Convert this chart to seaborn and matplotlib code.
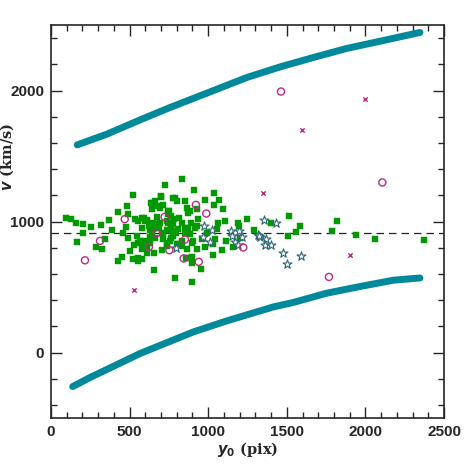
import numpy as np
import pandas as pd
import matplotlib
matplotlib.use('Agg')
import matplotlib.pyplot as plt
from matplotlib.ticker import MultipleLocator
import seaborn as sns

# 数据
upper_x = [167, 354, 587, 757, 1011, 1245, 1457, 1669, 1881, 2093, 2347]
upper_v = [1585, 1666, 1786, 1870, 1989, 2099, 2180, 2252, 2321, 2376, 2443]
lower_x = [138, 248, 566, 905, 1117, 1414, 1541, 1754, 1966, 2178, 2347]
lower_v = [-260, -191, -8, 157, 241, 348, 382, 453, 504, 552, 569]
v_mean = 910

sq_x = [96, 130, 161, 204, 206, 166, 255, 316, 289, 323, 371, 344, 390, 427, 484,
        492, 524, 533, 556, 480, 490, 456, 505, 528, 554, 579, 594, 609, 622, 630,
        592, 611, 653, 636, 645, 662, 672, 694, 700, 725, 749, 774, 789, 800, 834,
        853, 863, 874, 884, 910, 927, 937, 980, 1039, 1037, 1071, 1096, 1109, 1065, 1054,
        1041, 1029, 990, 982, 959, 931, 918, 906, 884, 874, 863, 831, 810, 793, 778,
        757, 736, 715, 704, 683, 672, 651, 647, 630, 747, 766, 783, 778, 766, 747,
        736, 715, 662, 630, 609, 577, 554, 524, 450, 427, 658, 787, 897, 954, 1033,
        1086, 1113, 1160, 1192, 1196, 1202, 1245, 867, 895, 931, 853,
        697, 644, 710, 746, 816, 576, 598, 672, 693, 735, 831, 890, 644, 687, 767,
        805, 852, 545, 566, 587, 708, 735, 763, 799, 831, 894, 555, 581, 857, 894,
        1291, 1400, 1512, 1561, 1584, 1510, 1788, 1821, 1940, 2059, 2371]
sq_v = [1025, 1022, 989, 979, 910, 842, 959, 971, 803, 793, 1012, 870, 936, 1076, 1119,
        1058, 1200, 1017, 1005, 956, 872, 915, 778, 824, 837, 949, 1030, 1012, 966, 933,
        852, 763, 763, 1144, 1094, 1157, 1119, 1106, 1195, 1277, 1081, 1183, 1183, 1157, 1323,
        1157, 1106, 1068, 1081, 1241, 1094, 1017, 1165, 1221, 1127, 1162, 1099, 1004, 992, 941,
        865, 826, 915, 809, 870, 966, 951, 852, 903, 954, 788, 814, 826, 915, 890,
        852, 814, 865, 915, 954, 979, 992, 941, 882, 1055, 1043, 1017, 979, 954, 992,
        936, 903, 877, 834, 796, 788, 725, 717, 732, 702, 630, 567, 536, 636, 742,
        781, 852, 809, 992, 966, 877, 1017, 725, 732, 788, 954,
        1190, 1145, 1127, 1081, 1030, 1030, 1005, 1038, 992, 1005, 987, 992, 915, 951, 928,
        941, 915, 890, 852, 834, 783, 839, 877, 826, 852, 834, 699, 717, 725, 687,
        936, 992, 1040, 921, 964, 888, 926, 1007, 898, 865, 862]

circ_x = [216, 312, 469, 623, 672, 723, 753, 844, 852, 922, 940, 988, 1223, 2108, 1768, 1463]
circ_v = [704, 852, 1018, 806, 911, 1035, 781, 718, 862, 1127, 692, 1061, 802, 1298, 577, 1992]

cross_x = [526, 1351, 1904, 1599, 2000]
cross_v = [481, 1221, 745, 1697, 1934]

star_x = [793, 975, 1026, 969, 1013, 1145, 1151, 1198, 1213, 1173, 1192, 1315, 1330,
          1322, 1357, 1431, 1370, 1361, 1398, 1474, 1499, 1590]
star_v = [798, 962, 934, 882, 842, 926, 888, 928, 885, 844, 824, 895, 878,
          886, 1008, 989, 870, 824, 824, 760, 679, 733]

sns.set_style('ticks')
plt.rcParams['font.family'] = ['Liberation Sans', 'DejaVu Sans']
plt.rcParams['xtick.direction'] = 'in'
plt.rcParams['ytick.direction'] = 'in'

fig = plt.figure(figsize=(4.69, 4.69), dpi=100)
ax = fig.add_axes([0.1087, 0.1087, 0.838, 0.838])

teal = '#00899a'
mag = '#c02a84'
green = '#009a00'
star_c = '#2f6675'

# 两条粗曲线
sns.lineplot(x=upper_x, y=upper_v, ax=ax, color=teal, lw=5, sort=False, estimator=None)
sns.lineplot(x=lower_x, y=lower_v, ax=ax, color=teal, lw=5, sort=False, estimator=None)

# 平均速度虚线
ax.axhline(v_mean, color='#222222', lw=0.9, ls=(0, (6, 4)), zorder=1)

# 散点
sns.scatterplot(x=sq_x, y=sq_v, ax=ax, marker='s', s=13, color=green,
                edgecolor=green, linewidth=0.3, zorder=3)
sns.scatterplot(x=star_x, y=star_v, ax=ax, marker='*', s=45, facecolor='white',
                edgecolor=star_c, linewidth=0.8, zorder=4)
sns.scatterplot(x=circ_x, y=circ_v, ax=ax, marker='o', s=26, facecolor='none',
                edgecolor=mag, linewidth=1.0, zorder=5)
sns.scatterplot(x=cross_x, y=cross_v, ax=ax, marker='x', s=10, color=mag,
                linewidth=1.0, zorder=5)

ax.set_xlim(0, 2500)
ax.set_ylim(-500, 2500)
ax.xaxis.set_major_locator(MultipleLocator(500))
ax.xaxis.set_minor_locator(MultipleLocator(100))
ax.yaxis.set_major_locator(MultipleLocator(1000))
ax.yaxis.set_minor_locator(MultipleLocator(200))
ax.tick_params(which='both', top=True, right=True, width=1.0, labelsize=11, pad=5)
ax.tick_params(which='major', length=8)
ax.tick_params(which='minor', length=4)
for lab in ax.get_xticklabels() + ax.get_yticklabels():
    lab.set_fontweight('bold')
for s in ax.spines.values():
    s.set_linewidth(1.2)

ax.set_xlabel(r'$\mathbfit{y}_\mathbf{0}$ (pix)', fontsize=10.5, family='DejaVu Serif',
              fontweight='bold', labelpad=1)
ax.set_ylabel(r'$\mathbfit{v}$ (km/s)', fontsize=10.5, family='DejaVu Serif',
              fontweight='bold')
ax.yaxis.set_label_coords(-0.088, 0.664)

fig.savefig('out.png', dpi=100)
